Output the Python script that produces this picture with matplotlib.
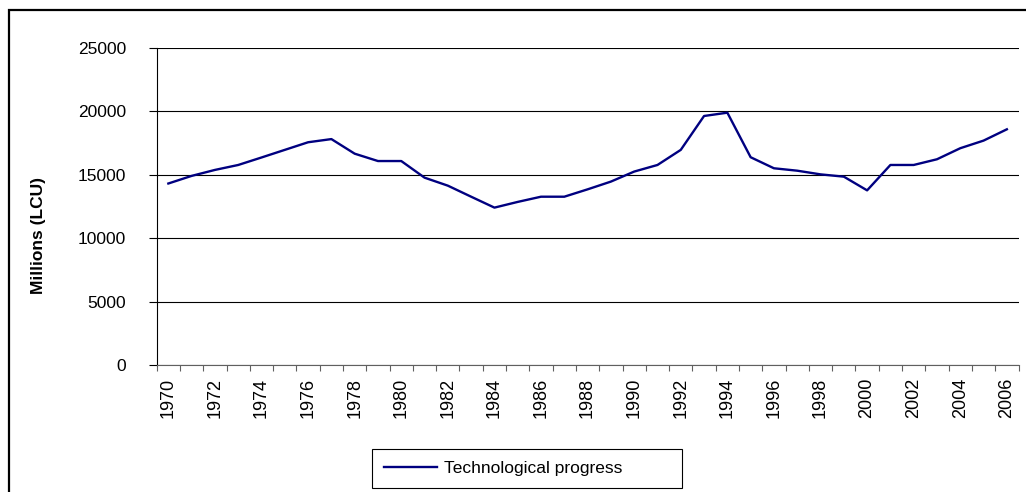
import numpy as np
import matplotlib.pyplot as plt
import matplotlib.transforms as mtransforms
from matplotlib.patches import Rectangle

plt.rcParams['font.family'] = ['Liberation Sans', 'DejaVu Sans']

# data (millions LCU)
years = list(range(1970, 2007))
tech_progress = [14300, 14900, 15370, 15760, 16350, 16950, 17550, 17800,
                 16650, 16070, 16070, 14760, 14130, 13260, 12400, 12850,
                 13260, 13260, 13840, 14450, 15240, 15760, 16950, 19620,
                 19880, 16370, 15500, 15310, 15020, 14840, 13760, 15760,
                 15760, 16210, 17080, 17680, 18570]
y_ticks = [0, 5000, 10000, 15000, 20000, 25000]

W, H = 1026, 492
fig = plt.figure(figsize=(W / 100, H / 100), dpi=100)

# outer chart border (only top and left visible in the crop)
fig.patches.append(Rectangle((8.5 / W, -0.1), 1.2, 1 - 9.5 / H + 0.1,
                             transform=fig.transFigure, fill=False,
                             edgecolor='black', linewidth=1.6, clip_on=False))

ax = fig.add_axes([156.7 / W, 1 - 365 / H, (1018.5 - 156.7) / W, (365 - 47.7) / H])

x = np.arange(len(years))
ax.plot(x, tech_progress, color='#000080', linewidth=1.7, label='Technological progress')

ax.set_xlim(-0.5, len(years) - 0.5)
ax.set_ylim(0, 25000)
ax.set_yticks(y_ticks)
ax.set_yticklabels([str(v) for v in y_ticks], fontsize=12.5)
ax.yaxis.grid(True, color='black', linewidth=0.8)
ax.set_axisbelow(True)

# category labels every second year, tick marks between categories
ax.set_xticks(x[::2])
ax.set_xticklabels([str(y) for y in years[::2]], rotation=90, fontsize=13, va='top')
shift = mtransforms.ScaledTranslation(-3 / 100, 0, fig.dpi_scale_trans)
for lab in ax.get_xticklabels():
    lab.set_transform(lab.get_transform() + shift)
ax.set_xticks(np.arange(-0.5, len(years)), minor=True)
ax.tick_params(axis='x', which='major', length=0, pad=9)
ax.tick_params(axis='x', which='minor', length=4, width=0.8, color='#606060')
ax.tick_params(axis='y', length=6, width=0.8, pad=16)

for s in ['top', 'right']:
    ax.spines[s].set_visible(False)
ax.spines['left'].set_linewidth(0.8)
ax.spines['bottom'].set_color('#606060')
ax.spines['bottom'].set_linewidth(0.8)

fig.text(38 / W, 1 - 235 / H, 'Millions (LCU)', rotation=90, ha='center', va='center',
         fontsize=12.5, fontweight='bold')

leg = fig.legend(loc='lower left', mode='expand', ncol=1,
                 bbox_to_anchor=(372 / W, 1 - 488 / H, (682 - 372) / W, (488 - 449) / H),
                 fontsize=12.5, fancybox=False, framealpha=1, edgecolor='black',
                 handlelength=3.05, handletextpad=0.4, borderpad=0.68, borderaxespad=0)
leg.get_frame().set_linewidth(0.8)

fig.savefig('out.png', dpi=100)
